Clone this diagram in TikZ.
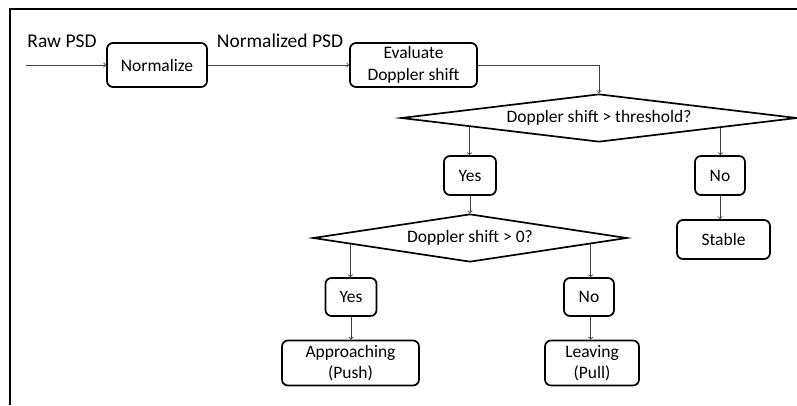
\documentclass[tikz,border=0pt]{standalone}
\usepackage{fontspec}
\setmainfont{Carlito}
\usetikzlibrary{shapes.geometric,calc}

\begin{document}
\begin{tikzpicture}[x=1pt,y=-1pt,
                    font=\fontsize{17.5}{21.5}\selectfont,
                    box/.style={draw,rounded corners=6pt,line width=1.7pt,align=center,inner sep=0pt},
                    decision/.style={diamond,draw,aspect=8,line width=1.7pt,inner sep=0pt,minimum height=48pt},
                    label/.style={font=\fontsize{19.5}{23}\selectfont},
                    link/.style={->,draw=black!75,line width=0.9pt}]
                    \useasboundingbox (0,0) rectangle (797,405);
                    \draw[line width=2pt] (9.5,405) -- (9.5,8.5) -- (797,8.5);
                    % top row
                    \coordinate (rawin) at (26,65);
                    \node[label] (rawlbl) at (62,41) {Raw PSD};
                    \node[box,minimum width=100pt,minimum height=44pt] (norm) at (157,65) {Normalize};
                    \node[label] (normlbl) at (280,41) {Normalized PSD};
                    \node[box,minimum width=127pt,minimum height=44pt] (eval) at (413.5,65) {Evaluate\\Doppler shift};
                    % first decision
                    \node[decision,minimum width=396pt] (d1) at (599,118) {Doppler shift > threshold?};
                    \node[box,minimum width=52pt,minimum height=39pt] (yes1) at (470,175.5) {Yes};
                    \node[box,minimum width=50pt,minimum height=39pt] (no1) at (720,175.5) {No};
                    \node[box,minimum width=93pt,minimum height=39pt] (stable) at (723.5,239.5) {Stable};
                    % second decision
                    \node[decision,minimum width=314pt] (d2) at (470,238) {Doppler shift > 0?};
                    \node[box,minimum width=51pt,minimum height=38pt] (yes2) at (351,297) {Yes};
                    \node[box,minimum width=50pt,minimum height=38pt] (no2) at (589,297) {No};
                    \node[box,minimum width=137pt,minimum height=45pt] (appr) at (350.5,363) {Approaching\\(Push)};
                    \node[box,minimum width=94pt,minimum height=45pt] (leave) at (592,363) {Leaving\\(Pull)};
                    % connectors
                    \coordinate (d1l) at ($(d1.west)!0.348!(d1.south)$);
                    \coordinate (d1r) at ($(d1.south)!0.611!(d1.east)$);
                    \coordinate (d2l) at ($(d2.west)!0.242!(d2.south)$);
                    \coordinate (d2r) at ($(d2.south)!0.764!(d2.east)$);
                    \draw[link] (rawin) -- (norm);
                    \draw[link] (norm) -- (eval);
                    \draw[link] (eval.east) -| (d1.north);
                    \draw[link] (d1l) -- (d1l |- yes1.north);
                    \draw[link] (d1r) -- (d1r |- no1.north);
                    \draw[link] (no1.south) -- (no1.south |- stable.north);
                    \draw[link] (yes1) -- (d2.north);
                    \draw[link] (d2l) -- (d2l |- yes2.north);
                    \draw[link] (d2r) -- (d2r |- no2.north);
                    \draw[link] (yes2) -- (yes2 |- appr.north);
                    \draw[link] (d2r |- no2.south) -- (d2r |- leave.north);
\end{tikzpicture}
\end{document}
